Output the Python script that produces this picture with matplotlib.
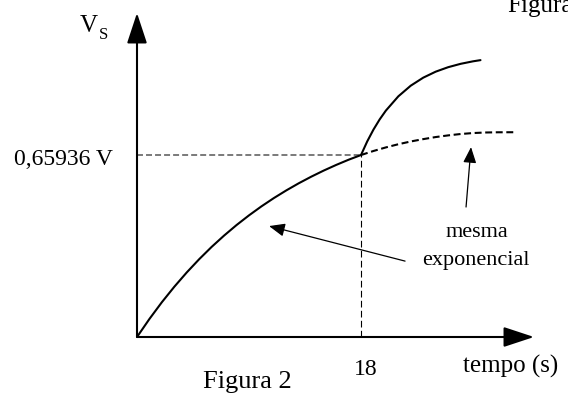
import matplotlib
matplotlib.use('Agg')
import matplotlib.pyplot as plt

plt.rcParams['font.family'] = ['Liberation Serif', 'DejaVu Serif']
plt.rcParams['lines.scale_dashes'] = False

# first charging curve, t in s, V in volts
t_charge = [0, 1, 2, 3, 4, 5, 6, 7, 8, 9, 10, 11, 12, 13, 14, 15, 16,
            17, 18]
v_charge = [0, 0.0655, 0.1262, 0.1822, 0.2341, 0.2821, 0.3266, 0.3676,
            0.4057, 0.4408, 0.4734, 0.5035, 0.5313, 0.5571, 0.5809,
            0.6030, 0.6234, 0.6423, 0.65936]

# faster rise after t = 18 s
t_fast = [18, 18.5, 19, 19.5, 20, 21, 22, 23, 24, 25, 26, 27, 27.6]
v_fast = [0.65936, 0.7088, 0.7515, 0.7885, 0.8205, 0.8721, 0.9108,
          0.9397, 0.9614, 0.9776, 0.9898, 0.9989, 1.0032]

# same exponential continued (dashed)
t_same = [18, 19, 20, 21, 22, 23, 24, 25, 26, 27, 28, 29, 30.4]
v_same = [0.65936, 0.6740, 0.6870, 0.6985, 0.7085, 0.7170, 0.7245,
          0.7305, 0.7355, 0.7390, 0.7410, 0.7418, 0.7420]

mark_t = 18
mark_v = 0.65936
mark_v_label = '0,65936 V'


def main():
    fig = plt.figure(figsize=(5.68, 3.93), dpi=100)
    ax = fig.add_axes([137 / 568, 56 / 393, 397 / 568, 324 / 393])
    ax.set_xlim(0, 31.9)
    ax.set_ylim(0, 1.174)
    ax.axis('off')

    # axes with arrow heads
    axis_arrow = dict(arrowstyle='-|>,head_length=0.94,head_width=0.31',
                      mutation_scale=20, lw=1.5, color='black',
                      shrinkA=0, shrinkB=0)
    ax.annotate('', xy=(31.9, 0), xytext=(0, 0), arrowprops=axis_arrow,
                annotation_clip=False)
    ax.annotate('', xy=(0, 1.174), xytext=(0, 0), arrowprops=axis_arrow,
                annotation_clip=False)

    # guide lines to the marked point
    ax.plot([0, mark_t], [mark_v, mark_v], color='#7a7a7a', lw=1.4,
            linestyle=(0, (4.3, 2.2)))
    ax.plot([mark_t, mark_t], [0, mark_v], color='black', lw=0.8,
            linestyle=(0, (4.8, 2.4)))

    ax.plot(t_charge, v_charge, color='black', lw=1.5,
            solid_capstyle='round', solid_joinstyle='round')
    ax.plot(t_fast, v_fast, color='black', lw=1.5,
            solid_capstyle='round', solid_joinstyle='round')
    ax.plot(t_same, v_same, color='black', lw=1.5,
            linestyle=(0, (5, 2.6)))

    # pointers to the dashed and solid part of the exponential
    ptr = dict(arrowstyle='-|>,head_length=0.6,head_width=0.25',
               mutation_scale=16, lw=0.9, color='black',
               shrinkA=0, shrinkB=0)
    ax.annotate('', xy=(10.61, 0.402), xytext=(21.54, 0.275),
                arrowprops=ptr)
    ax.annotate('', xy=(26.84, 0.688), xytext=(26.44, 0.471),
                arrowprops=ptr)

    ax.text(27.3, 0.363, 'mesma', ha='center', va='baseline', fontsize=16)
    ax.text(27.2, 0.261, 'exponencial', ha='center', va='baseline',
            fontsize=16)

    # labels
    ax.text(-4.58, 1.105, 'V', ha='left', va='baseline', fontsize=18,
            clip_on=False)
    ax.text(-3.05, 1.080, 'S', ha='left', va='baseline', fontsize=12,
            clip_on=False)
    ax.text(-1.93, 0.623, mark_v_label, ha='right', va='baseline',
            fontsize=17, clip_on=False)
    ax.text(18.4, -0.138, str(mark_t), ha='center', va='baseline',
            fontsize=17, clip_on=False)
    ax.text(26.2, -0.130, 'tempo (s)', ha='left', va='baseline',
            fontsize=18, clip_on=False)
    ax.text(5.3, -0.185, 'Figura 2', ha='left', va='baseline',
            fontsize=19, clip_on=False)
    ax.text(29.73, 1.177, 'Figura', ha='left', va='baseline',
            fontsize=18, clip_on=False)

    fig.savefig('out.png', dpi=100)


if __name__ == '__main__':
    main()
